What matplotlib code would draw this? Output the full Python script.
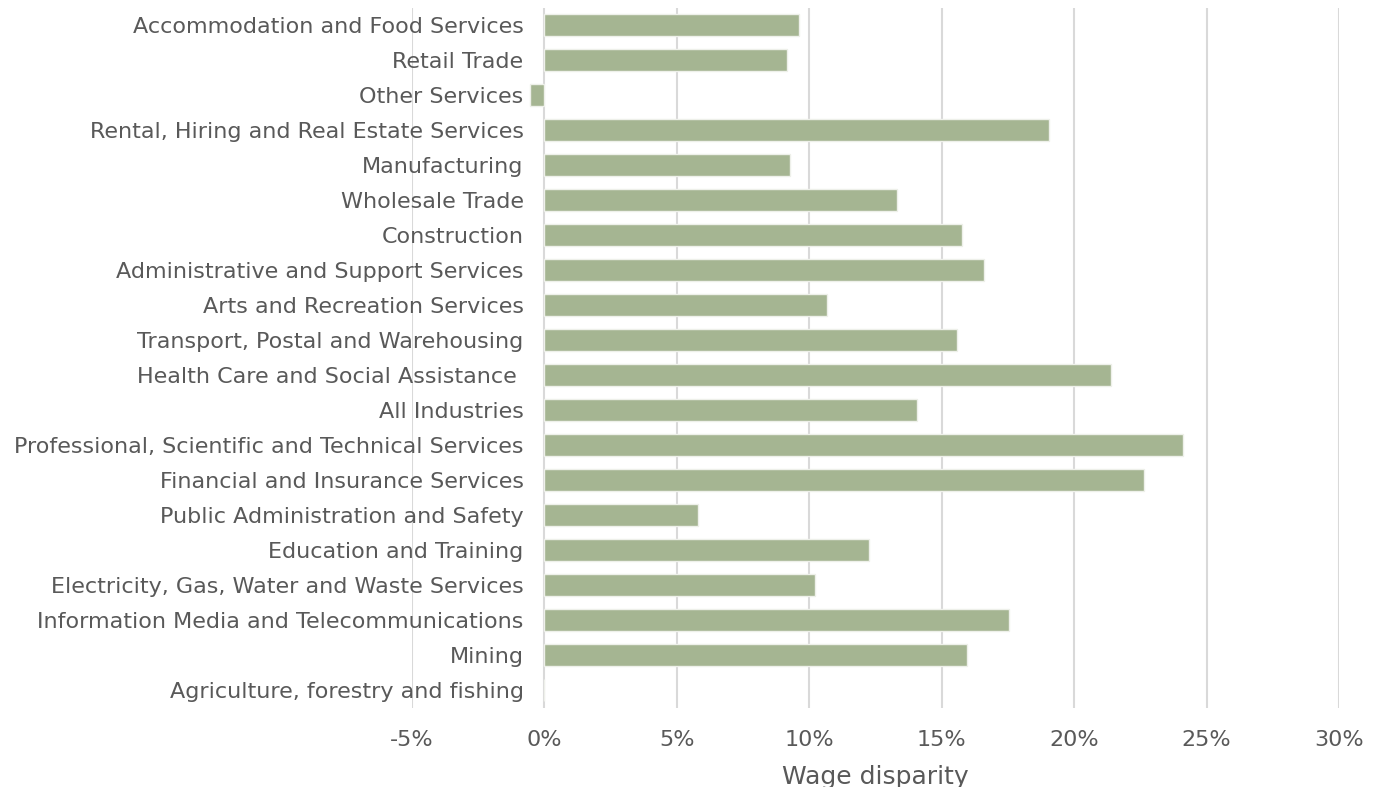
import matplotlib
matplotlib.use("Agg")
import matplotlib.pyplot as plt
from matplotlib.ticker import FuncFormatter

# industries, top to bottom as shown
industries = [
    "Accommodation and Food Services",
    "Retail Trade",
    "Other Services",
    "Rental, Hiring and Real Estate Services",
    "Manufacturing",
    "Wholesale Trade",
    "Construction",
    "Administrative and Support Services",
    "Arts and Recreation Services",
    "Transport, Postal and Warehousing",
    "Health Care and Social Assistance ",
    "All Industries",
    "Professional, Scientific and Technical Services",
    "Financial and Insurance Services",
    "Public Administration and Safety",
    "Education and Training",
    "Electricity, Gas, Water and Waste Services",
    "Information Media and Telecommunications",
    "Mining",
    "Agriculture, forestry and fishing",
]
disparity = [
    0.0963, 0.0917, -0.0053, 0.1905, 0.0926, 0.1331, 0.1575, 0.1660,
    0.1067, 0.1557, 0.2140, 0.1407, 0.2412, 0.2262, 0.0578, 0.1227,
    0.1020, 0.1754, 0.1594, 0.0,
]
x_ticks = [-0.05, 0.0, 0.05, 0.10, 0.15, 0.20, 0.25, 0.30]

text_col = "#595959"
bar_col = "#A5B592"

fig = plt.figure(figsize=(13.81, 7.87), dpi=100)
ax = fig.add_axes([412 / 1381, 79.5 / 787, 927 / 1381, 700 / 787])

pos = list(range(len(industries)))
ax.barh(pos, disparity, height=0.63, color=bar_col, edgecolor="#EEF0EA",
        linewidth=1.0, zorder=3)

ax.set_xlim(-0.05, 0.30)
ax.set_ylim(len(industries) - 0.5, -0.5)
ax.set_xticks(x_ticks)
ax.xaxis.set_major_formatter(FuncFormatter(lambda v, p: f"{v * 100:.0f}%"))
ax.set_yticks(pos)
ax.set_yticklabels(industries)

# category labels sit left of the zero line, like the Excel original
ax.spines["left"].set_position(("data", 0))
for s in ["left", "right", "top", "bottom"]:
    ax.spines[s].set_visible(False)

ax.grid(axis="x", color="#D9D9D9", linewidth=1.5, zorder=0)
ax.tick_params(axis="y", length=0, pad=15, labelsize=16, labelcolor=text_col)
ax.tick_params(axis="x", length=0, pad=16, labelsize=16, labelcolor=text_col)
ax.set_xlabel("Wage disparity", fontsize=18, color=text_col, labelpad=11)

fig.savefig("out.png", dpi=100)
